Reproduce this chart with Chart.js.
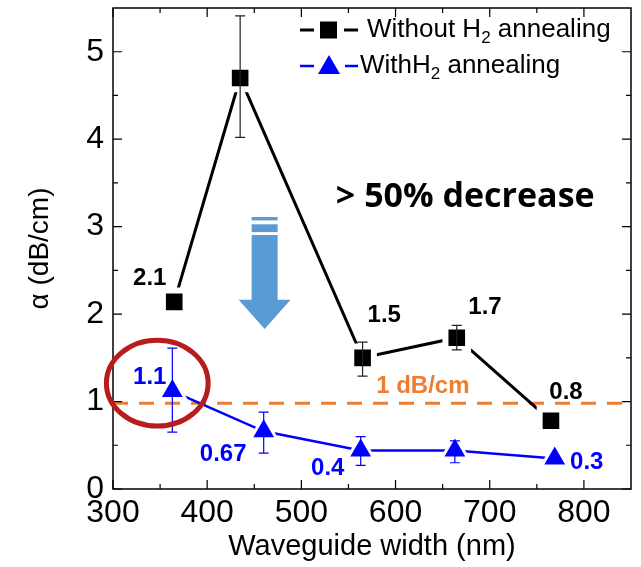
<!DOCTYPE html>
<html>
<head>
<meta charset="utf-8">
<script src="https://cdn.jsdelivr.net/npm/chart.js@4.4.1/dist/chart.umd.min.js"></script>
<style>
html, body { margin: 0; padding: 0; background: #fff; }
</style>
</head>
<body>
<canvas id="lossChart" width="641" height="567"></canvas>
<script>
// waveguide width (nm) vs propagation loss (dB/cm)
const widthsNoH2 = [365, 435, 565, 665, 765];
const lossNoH2 = [2.14, 4.70, 1.50, 1.73, 0.78];
const errLowNoH2 = [null, 4.02, 1.29, 1.59, null];
const errHighNoH2 = [null, 5.41, 1.68, 1.87, null];

const widthsH2 = [363, 460, 563, 663, 769];
const lossH2 = [1.12, 0.66, 0.44, 0.44, 0.35];
const errLowH2 = [0.65, 0.41, 0.27, 0.30, null];
const errHighH2 = [1.61, 0.88, 0.60, 0.55, null];

// 1 dB/cm reference line
const refWidths = [300, 850];
const refLoss = [0.98, 0.98];

const xTicks = [300, 400, 500, 600, 700, 800];
const xMinorTicks = [350, 450, 550, 650, 750];
const yTicks = [0, 1, 2, 3, 4, 5];
const yMinorTicks = [0.5, 1.5, 2.5, 3.5, 4.5];

// text annotations (placed in data units)
const notes = [
    { text: '2.1', x: 339, y: 2.41, color: '#000' },
    { text: '1.5', x: 588, y: 1.99, color: '#000' },
    { text: '1.7', x: 695, y: 2.08, color: '#000' },
    { text: '0.8', x: 781, y: 1.11, color: '#000' },
    { text: '1.1', x: 339, y: 1.28, color: '#0000ff' },
    { text: '0.67', x: 417, y: 0.40, color: '#0000ff' },
    { text: '0.4', x: 528, y: 0.24, color: '#0000ff' },
    { text: '0.3', x: 803, y: 0.30, color: '#0000ff' },
    { text: '1 dB/cm', x: 629, y: 1.17, color: '#ed7d31' }
];

const FONT = "'Liberation Sans', Arial, sans-serif";

function drawErrors(ctx, x, y, xs, lo, hi, color) {
    ctx.save();
    ctx.strokeStyle = color;
    ctx.lineWidth = 1.2;
    for (let i = 0; i < xs.length; i++) {
        if (lo[i] == null) continue;
        const px = x.getPixelForValue(xs[i]);
        const p1 = y.getPixelForValue(lo[i]);
        const p2 = y.getPixelForValue(hi[i]);
        ctx.beginPath();
        ctx.moveTo(px, p1); ctx.lineTo(px, p2);
        ctx.moveTo(px - 5, p1); ctx.lineTo(px + 5, p1);
        ctx.moveTo(px - 5, p2); ctx.lineTo(px + 5, p2);
        ctx.stroke();
    }
    ctx.restore();
}

function drawSubText(ctx, parts, x, y) {
    // parts: [text, sub, text]
    ctx.font = '26px ' + FONT;
    ctx.textBaseline = 'middle';
    ctx.textAlign = 'left';
    ctx.fillText(parts[0], x, y);
    x += ctx.measureText(parts[0]).width;
    ctx.font = '17px ' + FONT;
    ctx.fillText(parts[1], x, y + 8);
    x += ctx.measureText(parts[1]).width;
    ctx.font = '26px ' + FONT;
    ctx.fillText(parts[2], x, y);
}

const overlay = {
    id: 'overlay',
    afterDatasetsDraw(chart) {
        const { ctx, scales: { x, y } } = chart;
        drawErrors(ctx, x, y, widthsNoH2, errLowNoH2, errHighNoH2, '#222');
        drawErrors(ctx, x, y, widthsH2, errLowH2, errHighH2, '#0000ff');
    },
    afterDraw(chart) {
        const { ctx, chartArea: a, scales: { x, y } } = chart;
        ctx.save();

        // frame
        ctx.strokeStyle = '#000';
        ctx.lineWidth = 1.5;
        ctx.strokeRect(a.left, a.top, a.right - a.left, a.bottom - a.top);

        // inward ticks on all four sides
        ctx.lineWidth = 1.2;
        ctx.beginPath();
        const tickX = (v, len) => {
            const px = x.getPixelForValue(v);
            ctx.moveTo(px, a.bottom); ctx.lineTo(px, a.bottom - len);
            ctx.moveTo(px, a.top); ctx.lineTo(px, a.top + len);
        };
        const tickY = (v, len) => {
            const py = y.getPixelForValue(v);
            ctx.moveTo(a.left, py); ctx.lineTo(a.left + len, py);
            ctx.moveTo(a.right, py); ctx.lineTo(a.right - len, py);
        };
        xTicks.forEach(v => tickX(v, 9));
        xMinorTicks.forEach(v => tickX(v, 5));
        yTicks.forEach(v => tickY(v, 9));
        yMinorTicks.forEach(v => tickY(v, 5));
        ctx.stroke();

        // tick labels
        ctx.fillStyle = '#000';
        ctx.font = '32px ' + FONT;
        ctx.textBaseline = 'middle';
        ctx.textAlign = 'center';
        x.ticks.forEach(t => ctx.fillText(String(t.value), x.getPixelForValue(t.value), a.bottom + 24));
        ctx.textAlign = 'right';
        y.ticks.forEach(t => ctx.fillText(String(t.value), a.left - 9, y.getPixelForValue(t.value)));

        // blue down arrow
        const ax = x.getPixelForValue(461);
        const aTop = y.getPixelForValue(3.11);
        const aTip = y.getPixelForValue(1.83);
        const L = aTip - aTop;
        const shaftHalf = 13, headHalf = 26;
        ctx.fillStyle = '#5b9bd5';
        ctx.fillRect(ax - shaftHalf, aTop, shaftHalf * 2, L * 0.03);
        ctx.fillRect(ax - shaftHalf, aTop + L * 0.065, shaftHalf * 2, L * 0.07);
        ctx.beginPath();
        ctx.moveTo(ax - shaftHalf, aTop + L * 0.16);
        ctx.lineTo(ax + shaftHalf, aTop + L * 0.16);
        ctx.lineTo(ax + shaftHalf, aTop + L * 0.74);
        ctx.lineTo(ax + headHalf, aTop + L * 0.74);
        ctx.lineTo(ax, aTip);
        ctx.lineTo(ax - headHalf, aTop + L * 0.74);
        ctx.lineTo(ax - shaftHalf, aTop + L * 0.74);
        ctx.closePath();
        ctx.fill();

        // red ellipse around the first annealed point
        const ex = x.getPixelForValue(347), ey = y.getPixelForValue(1.21);
        const rx = x.getPixelForValue(401) - ex, ry = ey - y.getPixelForValue(1.70);
        ctx.strokeStyle = '#b81c1c';
        ctx.lineWidth = 5;
        ctx.beginPath();
        ctx.ellipse(ex, ey, rx, ry, 0, 0, Math.PI * 2);
        ctx.stroke();

        // value labels
        ctx.textAlign = 'center';
        ctx.textBaseline = 'middle';
        notes.forEach(n => {
            ctx.font = 'bold 24px ' + FONT;
            ctx.fillStyle = n.color;
            ctx.fillText(n.text, x.getPixelForValue(n.x), y.getPixelForValue(n.y));
        });
        ctx.font = "bold 34px 'Open Sans', sans-serif";
        ctx.fillStyle = '#000';
        ctx.fillText('> 50% decrease', x.getPixelForValue(674), y.getPixelForValue(3.34));

        // legend
        const lx = 300, ly1 = 30, ly2 = 66;
        ctx.strokeStyle = '#000';
        ctx.lineWidth = 3;
        ctx.beginPath();
        ctx.moveTo(lx, ly1); ctx.lineTo(lx + 14, ly1);
        ctx.moveTo(lx + 44, ly1); ctx.lineTo(lx + 58, ly1);
        ctx.stroke();
        ctx.fillStyle = '#000';
        ctx.fillRect(lx + 20, ly1 - 8.5, 17, 17);
        ctx.strokeStyle = '#0000ff';
        ctx.lineWidth = 2.5;
        ctx.beginPath();
        ctx.moveTo(lx, ly2); ctx.lineTo(lx + 14, ly2);
        ctx.moveTo(lx + 45, ly2); ctx.lineTo(lx + 58, ly2);
        ctx.stroke();
        ctx.fillStyle = '#0000ff';
        ctx.beginPath();
        ctx.moveTo(lx + 29, ly2 - 11);
        ctx.lineTo(lx + 40, ly2 + 8);
        ctx.lineTo(lx + 18, ly2 + 8);
        ctx.closePath();
        ctx.fill();
        ctx.fillStyle = '#000';
        drawSubText(ctx, ['Without H', '2', ' annealing'], lx + 67, ly1);
        drawSubText(ctx, ['WithH', '2', ' annealing'], lx + 60, ly2);

        ctx.restore();
    }
};

const ctx = document.getElementById('lossChart');
new Chart(ctx, {
    type: 'line',
    data: {
        datasets: [{
            label: 'Without H2 annealing',
            data: widthsNoH2.map((w, i) => ({ x: w, y: lossNoH2[i] })),
            borderColor: '#000',
            borderWidth: 3,
            pointStyle: 'rect',
            pointRadius: 16,
            pointBackgroundColor: '#000',
            pointBorderColor: '#fff',
            pointBorderWidth: 6,
            tension: 0,
            order: 1
        }, {
            label: 'WithH2 annealing',
            data: widthsH2.map((w, i) => ({ x: w, y: lossH2[i] })),
            borderColor: '#0000ff',
            borderWidth: 2.5,
            pointStyle: 'triangle',
            pointRadius: 15,
            pointBackgroundColor: '#0000ff',
            pointBorderColor: '#fff',
            pointBorderWidth: 3,
            tension: 0,
            order: 2
        }, {
            label: '1 dB/cm',
            data: refWidths.map((w, i) => ({ x: w, y: refLoss[i] })),
            borderColor: '#ed7d31',
            borderWidth: 3,
            borderDash: [15, 11],
            pointRadius: 0,
            order: 3
        }]
    },
    options: {
        responsive: false,
        animation: false,
        devicePixelRatio: 1,
        layout: { autoPadding: false, padding: { left: 0, right: 10, top: 8, bottom: 0 } },
        plugins: { legend: { display: false }, tooltip: { enabled: false } },
        scales: {
            x: {
                type: 'linear',
                min: 300,
                max: 850,
                afterBuildTicks: s => { s.ticks = xTicks.map(v => ({ value: v })); },
                afterFit: s => { s.height = 78; },
                grid: { display: false, drawTicks: false },
                border: { display: false },
                ticks: { display: false },
                title: { display: true, text: 'Waveguide width (nm)', color: '#000', padding: { top: 0, bottom: 3 }, font: { family: FONT, size: 29 } }
            },
            y: {
                min: 0,
                max: 5.5,
                afterBuildTicks: s => { s.ticks = yTicks.map(v => ({ value: v })); },
                afterFit: s => { s.width = 113; },
                grid: { display: false, drawTicks: false },
                border: { display: false },
                ticks: { display: false },
                title: { display: true, text: 'α (dB/cm)', color: '#000', padding: { top: 23, bottom: 0 }, font: { family: FONT, size: 28 } }
            }
        }
    },
    plugins: [overlay]
});
</script>
</body>
</html>
